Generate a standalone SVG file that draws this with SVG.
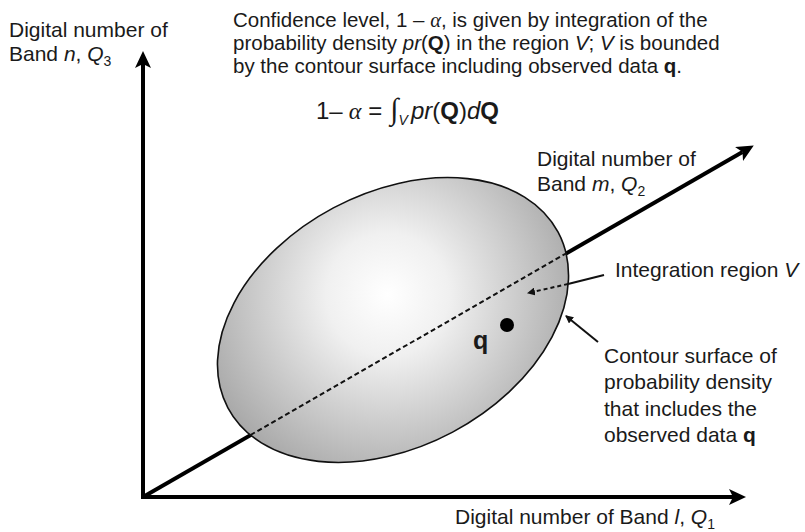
<svg xmlns="http://www.w3.org/2000/svg" width="805" height="532" viewBox="0 0 805 532">
<style>
text{font-family:"Liberation Sans",Arial,sans-serif;font-size:21px;fill:#1a1a1a}
.it{font-style:italic}
.b{font-weight:bold}
.sub{font-size:14px}
.gr{font-family:"Liberation Serif",serif;font-style:italic}
.axis{stroke:#000;stroke-width:4;fill:none}
.ptr{stroke:#111;stroke-width:2;fill:none}
</style>
<defs>
<radialGradient id="g" cx="400" cy="295" r="205" gradientUnits="userSpaceOnUse">
<stop offset="0" stop-color="#ffffff"/>
<stop offset="0.3" stop-color="#f0f0f0"/>
<stop offset="1" stop-color="#a4a4a4"/>
</radialGradient>
<marker id="big" markerUnits="userSpaceOnUse" markerWidth="18" markerHeight="16" refX="4" refY="8" orient="auto">
<path d="M0,0 L17,8 L0,16 L4,8 z" fill="#000"/>
</marker>
<marker id="sm" markerUnits="userSpaceOnUse" markerWidth="9" markerHeight="8" refX="7" refY="4" orient="auto">
<path d="M0,0 L8,4 L0,8 z" fill="#111"/>
</marker>
</defs>
<g id="connectors">
<line class="axis" x1="143" y1="499" x2="143" y2="64" marker-end="url(#big)"/>
<line class="axis" x1="141" y1="497" x2="733" y2="497" marker-end="url(#big)"/>
<line class="axis" x1="143" y1="497" x2="742.5" y2="152" marker-end="url(#big)"/>
</g>
<g id="region">
<ellipse cx="393" cy="320" rx="187" ry="127" transform="rotate(-28 393 320)" fill="url(#g)" stroke="#111" stroke-width="1.6"/>
<line x1="250.5" y1="435" x2="566" y2="253.5" stroke="#111" stroke-width="2" stroke-dasharray="5,3"/>
</g>
<g id="q">
<circle cx="507" cy="325" r="7" fill="#000"/>
<text class="b" x="473" y="349" style="font-size:25px">q</text>
</g>
<g id="pointers">
<line class="ptr" x1="604" y1="275" x2="568" y2="284"/>
<line class="ptr" x1="568" y1="284" x2="528" y2="293" stroke-dasharray="4,3" marker-end="url(#sm)"/>
<line class="ptr" x1="598" y1="342" x2="566" y2="316" marker-end="url(#sm)"/>
</g>
<g id="labels">
<text x="9" y="37">Digital number of</text>
<text x="9" y="61">Band <tspan class="it">n</tspan>, <tspan class="it">Q</tspan><tspan class="sub" dy="5">3</tspan></text>
<text x="233" y="27" style="font-size:20.5px">Confidence level, 1 – <tspan class="gr">α</tspan>, is given by integration of the</text>
<text x="233" y="50" style="font-size:20.5px">probability density <tspan class="it">pr</tspan>(<tspan class="b">Q</tspan>) in the region <tspan class="it">V</tspan>; <tspan class="it">V</tspan> is bounded</text>
<text x="233" y="73" style="font-size:20.5px">by the contour surface including observed data <tspan class="b">q</tspan>.</text>
<text x="316" y="119" style="font-size:24px">1–<tspan class="gr" dx="6">α</tspan><tspan dx="7">=</tspan><tspan class="gr" dx="8" style="font-size:30px">∫</tspan><tspan class="it" style="font-size:14px" dy="6">V</tspan><tspan class="it" dx="3" dy="-6">pr</tspan>(<tspan class="b">Q</tspan>)<tspan class="it">d</tspan><tspan class="b">Q</tspan></text>
<text x="537" y="166">Digital number of</text>
<text x="537" y="191">Band <tspan class="it">m</tspan>, <tspan class="it">Q</tspan><tspan class="sub" dy="5">2</tspan></text>
<text x="615" y="277">Integration region <tspan class="it">V</tspan></text>
<text x="604" y="363">Contour surface of</text>
<text x="604" y="389">probability density</text>
<text x="604" y="416">that includes the</text>
<text x="604" y="442">observed data <tspan class="b">q</tspan></text>
<text x="455" y="524">Digital number of Band <tspan class="it">l</tspan>, <tspan class="it">Q</tspan><tspan class="sub" dy="5">1</tspan></text>
</g>
</svg>
